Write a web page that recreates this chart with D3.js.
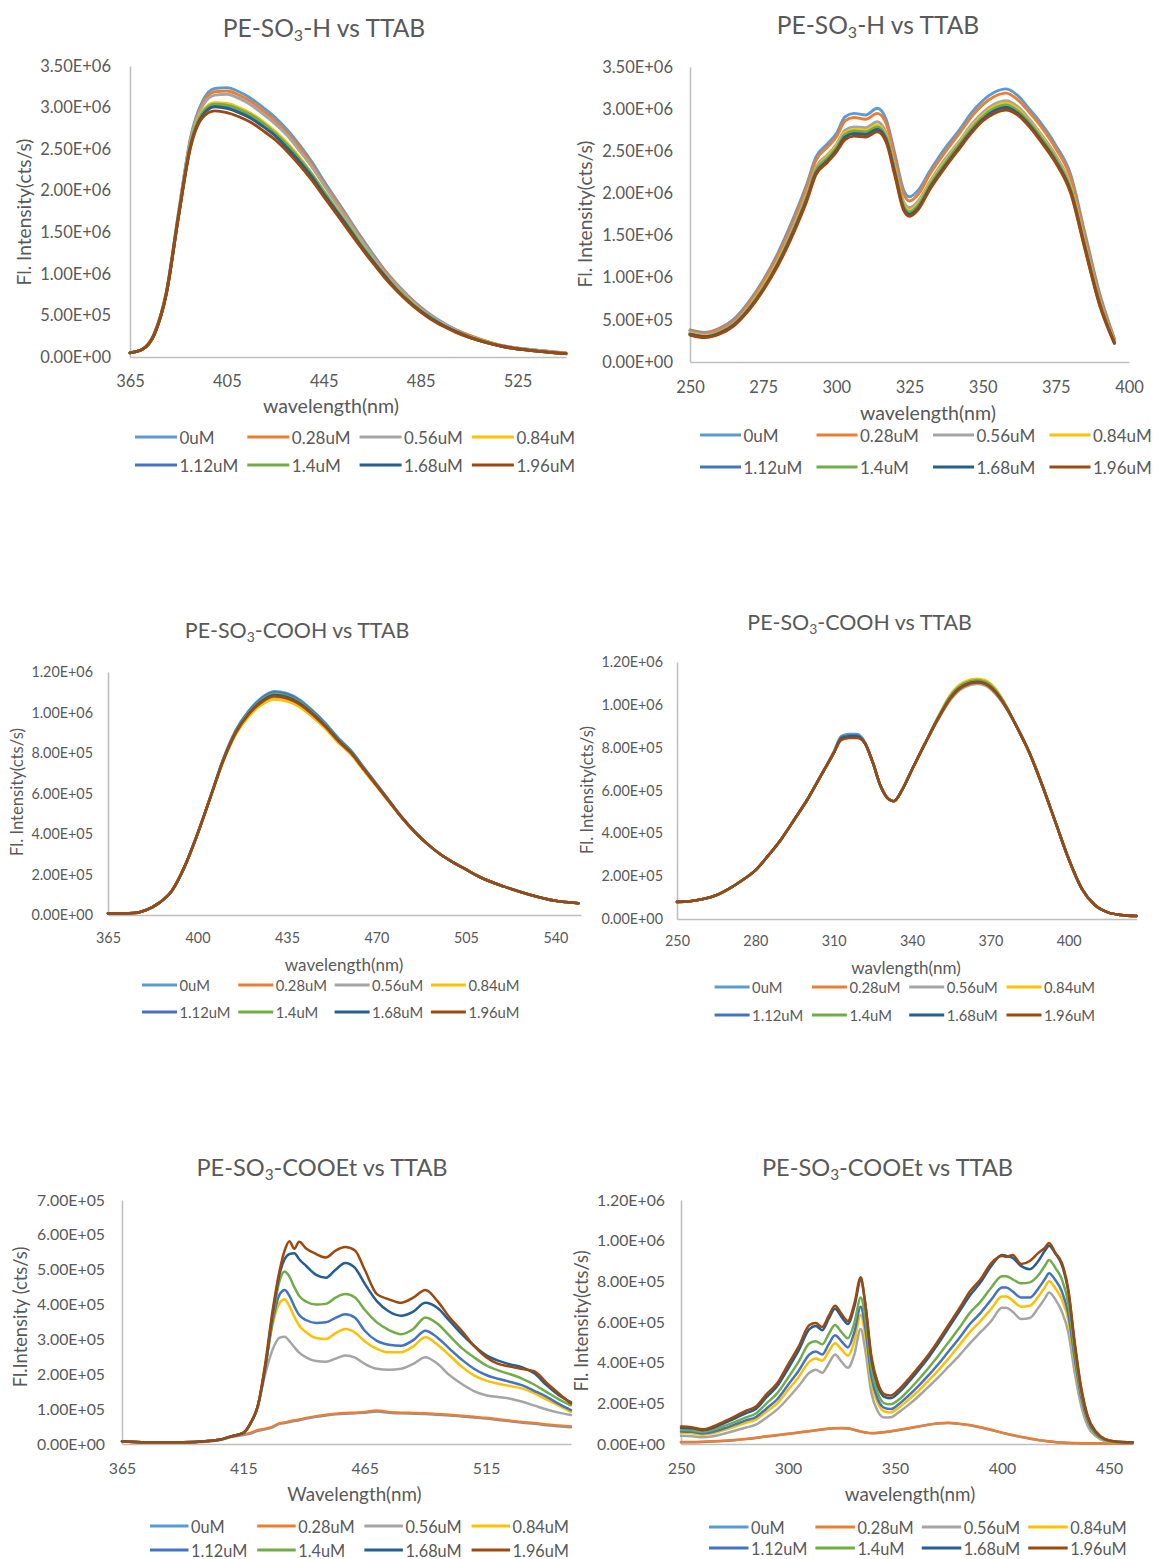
<!DOCTYPE html>
<html>
<head>
<meta charset="utf-8">
<script src="https://cdn.jsdelivr.net/npm/d3@7"></script>
<style>
  body { margin: 0; background: #ffffff; }
  svg text { font-family: Lato, "Open Sans", "DejaVu Sans", sans-serif; fill: #595959; }
</style>
</head>
<body>
<svg id="chart" width="1159" height="1559"></svg>
<script>
// ---------- shared legend entries ----------
const concLabels = ["0uM", "0.28uM", "0.56uM", "0.84uM", "1.12uM", "1.4uM", "1.68uM", "1.96uM"];
const lineColors = ["#5B9BD5", "#ED7D31", "#A5A5A5", "#FFC000", "#4472C4", "#70AD47", "#255E91", "#9E480E"];

// ---------- PE-SO3-H, emission (intensity in 1E+06 cts/s) ----------
const wlA = [365,370,375,380,385,390,395,400,405,410,415,420,425,430,435,440,445,450,455,460,465,470,475,480,485,490,495,500,510,520,530,545];
const A_0   = [.05,.09,.28,.78,1.73,2.64,3.08,3.23,3.24,3.19,3.11,3.00,2.88,2.73,2.55,2.35,2.12,1.90,1.68,1.46,1.25,1.05,.88,.73,.60,.49,.40,.32,.21,.13,.09,.05];
const A_028 = [.05,.09,.28,.78,1.72,2.62,3.05,3.19,3.20,3.15,3.07,2.96,2.84,2.69,2.52,2.32,2.09,1.88,1.66,1.44,1.23,1.04,.87,.72,.59,.48,.39,.32,.21,.13,.09,.05];
const A_056 = [.05,.09,.28,.77,1.72,2.61,3.02,3.15,3.16,3.11,3.03,2.92,2.80,2.66,2.48,2.29,2.07,1.85,1.64,1.42,1.22,1.02,.86,.71,.58,.48,.39,.31,.20,.13,.09,.04];
const A_084 = [.05,.09,.27,.77,1.70,2.57,2.96,3.06,3.05,3.00,2.93,2.83,2.71,2.57,2.40,2.21,2.00,1.79,1.59,1.38,1.18,.99,.83,.69,.56,.46,.38,.30,.20,.12,.08,.04];
const A_112 = [.05,.09,.27,.76,1.69,2.55,2.93,3.02,3.01,2.96,2.89,2.79,2.67,2.53,2.37,2.18,1.98,1.77,1.57,1.36,1.17,.98,.82,.68,.55,.45,.37,.30,.19,.12,.08,.04];
const A_140 = [.05,.09,.27,.77,1.70,2.56,2.94,3.04,3.03,2.98,2.91,2.81,2.69,2.55,2.38,2.20,1.99,1.78,1.58,1.37,1.17,.99,.82,.68,.56,.46,.37,.30,.20,.12,.08,.04];
const A_168 = [.05,.09,.27,.76,1.69,2.54,2.91,3.01,2.99,2.94,2.87,2.77,2.66,2.51,2.35,2.17,1.96,1.76,1.56,1.35,1.16,.98,.81,.67,.55,.45,.37,.30,.19,.12,.08,.04];
const A_196 = [.05,.09,.27,.76,1.68,2.52,2.88,2.96,2.94,2.89,2.82,2.72,2.61,2.47,2.31,2.13,1.93,1.73,1.53,1.33,1.14,.96,.80,.66,.54,.44,.36,.29,.19,.12,.08,.04];
const xTicksA = [365, 405, 445, 485, 525];
const yTicksA = [0, 0.5, 1, 1.5, 2, 2.5, 3, 3.5];

// ---------- PE-SO3-H, excitation (1E+06 cts/s) ----------
const wlB = [250,255,260,265,270,275,280,285,290,293,297,300,303,306,310,314,317,320,323,325,328,332,337,342,346,350,354,358,362,366,370,375,380,385,390,395];
const B_0   = [.38,.35,.40,.51,.71,.97,1.29,1.68,2.12,2.43,2.59,2.71,2.91,2.95,2.93,3.01,2.88,2.47,2.04,1.96,2.04,2.27,2.53,2.75,2.95,3.10,3.20,3.24,3.16,3.00,2.83,2.57,2.23,1.52,.81,.28];
const B_028 = [.37,.34,.39,.49,.69,.95,1.26,1.64,2.08,2.39,2.55,2.67,2.86,2.90,2.88,2.95,2.83,2.42,1.99,1.91,1.99,2.23,2.48,2.71,2.90,3.05,3.15,3.19,3.11,2.96,2.79,2.53,2.19,1.48,.78,.27];
const B_056 = [.35,.32,.36,.46,.65,.90,1.20,1.58,2.00,2.31,2.46,2.58,2.75,2.79,2.78,2.85,2.72,2.32,1.90,1.83,1.91,2.14,2.40,2.62,2.81,2.96,3.06,3.10,3.03,2.88,2.70,2.45,2.10,1.41,.73,.25];
const B_084 = [.34,.31,.35,.45,.64,.89,1.19,1.55,1.98,2.28,2.44,2.56,2.72,2.76,2.75,2.81,2.69,2.29,1.87,1.80,1.88,2.12,2.37,2.60,2.78,2.93,3.03,3.07,3.00,2.85,2.68,2.42,2.08,1.39,.71,.24];
const B_112 = [.33,.30,.34,.44,.63,.87,1.17,1.53,1.96,2.26,2.41,2.53,2.69,2.73,2.72,2.78,2.66,2.26,1.84,1.77,1.85,2.09,2.34,2.57,2.75,2.90,3.00,3.04,2.97,2.83,2.65,2.40,2.05,1.36,.70,.23];
const B_140 = [.33,.30,.35,.45,.63,.88,1.17,1.54,1.96,2.27,2.42,2.54,2.70,2.74,2.73,2.79,2.67,2.27,1.85,1.78,1.86,2.10,2.35,2.58,2.76,2.91,3.01,3.05,2.98,2.84,2.66,2.41,2.06,1.37,.70,.23];
const B_168 = [.33,.30,.34,.44,.62,.86,1.16,1.52,1.94,2.24,2.39,2.51,2.67,2.71,2.70,2.76,2.64,2.24,1.82,1.75,1.83,2.07,2.32,2.55,2.73,2.88,2.98,3.02,2.95,2.81,2.63,2.38,2.03,1.35,.68,.23];
const B_196 = [.32,.29,.33,.43,.61,.85,1.14,1.50,1.92,2.22,2.37,2.49,2.64,2.68,2.67,2.73,2.61,2.21,1.80,1.73,1.81,2.05,2.30,2.53,2.71,2.86,2.95,2.99,2.93,2.79,2.61,2.36,2.01,1.33,.67,.22];
const xTicksB = [250, 275, 300, 325, 350, 375, 400];
const yTicksB = [0, 0.5, 1, 1.5, 2, 2.5, 3, 3.5];

// ---------- PE-SO3-COOH, emission (1E+05 cts/s) ----------
const wlC = [365,375,380,385,390,395,400,405,410,415,420,425,430,435,440,445,450,455,460,465,470,475,480,485,490,495,500,505,510,520,530,540,549];
const C_0   = [.08,.1,.25,.6,1.2,2.4,4.0,5.8,7.68,9.13,10.08,10.73,11.05,10.95,10.63,10.1,9.48,8.75,8.13,7.3,6.48,5.65,4.83,4.1,3.5,3.0,2.6,2.25,1.9,1.4,1.0,.7,.58];
const C_028 = [.08,.1,.25,.6,1.2,2.4,4.0,5.8,7.58,8.97,9.86,10.45,10.74,10.64,10.35,9.85,9.26,8.56,7.97,7.18,6.38,5.59,4.79,4.1,3.5,3.0,2.6,2.25,1.9,1.4,1.0,.7,.58];
const C_056 = [.08,.1,.25,.6,1.2,2.4,4.0,5.8,7.59,8.98,9.87,10.46,10.76,10.66,10.36,9.87,9.27,8.58,7.98,7.18,6.39,5.59,4.8,4.1,3.5,3.0,2.6,2.25,1.9,1.4,1.0,.7,.58];
const C_084 = [.08,.1,.25,.6,1.2,2.4,4.0,5.8,7.56,8.93,9.8,10.37,10.65,10.55,10.27,9.78,9.2,8.51,7.93,7.14,6.36,5.57,4.79,4.1,3.5,3.0,2.6,2.25,1.9,1.4,1.0,.7,.58];
const C_112 = [.08,.1,.25,.6,1.2,2.4,4.0,5.8,7.66,9.1,10.04,10.68,11.0,10.9,10.58,10.06,9.44,8.72,8.1,7.28,6.46,5.64,4.82,4.1,3.5,3.0,2.6,2.25,1.9,1.4,1.0,.7,.58];
const C_140 = [.08,.1,.25,.6,1.2,2.4,4.0,5.8,7.64,9.06,9.98,10.61,10.92,10.82,10.51,10.0,9.38,8.67,8.06,7.25,6.44,5.62,4.81,4.1,3.5,3.0,2.6,2.25,1.9,1.4,1.0,.7,.58];
const C_168 = [.08,.1,.25,.6,1.2,2.4,4.0,5.8,7.62,9.03,9.94,10.55,10.86,10.76,10.45,9.95,9.34,8.64,8.03,7.22,6.42,5.61,4.81,4.1,3.5,3.0,2.6,2.25,1.9,1.4,1.0,.7,.58];
const C_196 = [.08,.1,.25,.6,1.2,2.4,4.0,5.8,7.6,9.0,9.9,10.5,10.8,10.7,10.4,9.9,9.3,8.6,8.0,7.2,6.4,5.6,4.8,4.1,3.5,3.0,2.6,2.25,1.9,1.4,1.0,.7,.58];
const xTicksC = [365, 400, 435, 470, 505, 540];
const yTicksC = [0, 2, 4, 6, 8, 10, 12];

// ---------- PE-SO3-COOH, excitation (1E+05 cts/s) ----------
const wlD = [250,255,260,265,270,275,280,285,290,295,300,305,310,313,316,319,322,325,328,331,333,336,340,345,350,355,360,365,368,372,376,380,385,390,395,400,405,410,415,420,426];
const D_0   = [.80,.83,.93,1.11,1.42,1.81,2.27,2.97,3.74,4.66,5.59,6.67,7.8,8.55,8.63,8.63,8.25,7.3,6.2,5.6,5.5,5.98,6.98,8.2,9.37,10.38,10.92,11.07,11.0,10.6,9.9,9.0,7.75,6.2,4.5,2.8,1.42,.65,.31,.19,.14];
const D_028 = [.80,.83,.93,1.11,1.42,1.81,2.27,2.97,3.74,4.66,5.59,6.67,7.75,8.45,8.53,8.53,8.2,7.3,6.2,5.6,5.5,5.98,6.98,8.2,9.4,10.43,10.97,11.12,11.05,10.65,9.93,9.0,7.75,6.2,4.5,2.8,1.42,.65,.31,.19,.14];
const D_056 = [.80,.83,.93,1.11,1.42,1.81,2.27,2.97,3.74,4.66,5.59,6.67,7.75,8.45,8.53,8.53,8.2,7.3,6.2,5.6,5.5,5.98,6.98,8.2,9.32,10.28,10.82,10.97,10.9,10.5,9.85,9.0,7.75,6.2,4.5,2.8,1.42,.65,.31,.19,.14];
const D_084 = [.80,.83,.93,1.11,1.42,1.81,2.27,2.97,3.74,4.66,5.59,6.67,7.75,8.5,8.58,8.58,8.2,7.3,6.2,5.6,5.5,5.98,6.98,8.2,9.45,10.53,11.07,11.22,11.15,10.75,9.98,9.0,7.75,6.2,4.5,2.8,1.42,.65,.31,.19,.14];
const D_112 = [.80,.83,.93,1.11,1.42,1.81,2.27,2.97,3.74,4.66,5.59,6.67,7.75,8.5,8.58,8.58,8.2,7.3,6.2,5.6,5.5,5.98,6.98,8.2,9.4,10.43,10.97,11.12,11.05,10.65,9.93,9.0,7.75,6.2,4.5,2.8,1.42,.65,.31,.19,.14];
const D_140 = [.80,.83,.93,1.11,1.42,1.81,2.27,2.97,3.74,4.66,5.59,6.67,7.75,8.45,8.53,8.53,8.2,7.3,6.2,5.6,5.5,5.98,6.98,8.2,9.42,10.46,11.0,11.15,11.08,10.68,9.95,9.0,7.75,6.2,4.5,2.8,1.42,.65,.31,.19,.14];
const D_168 = [.80,.83,.93,1.11,1.42,1.81,2.27,2.97,3.74,4.66,5.59,6.67,7.75,8.45,8.53,8.53,8.2,7.3,6.2,5.6,5.5,5.98,6.98,8.2,9.37,10.38,10.92,11.07,11.0,10.6,9.9,9.0,7.75,6.2,4.5,2.8,1.42,.65,.31,.19,.14];
const D_196 = [.80,.83,.93,1.11,1.42,1.81,2.27,2.97,3.74,4.66,5.59,6.67,7.75,8.37,8.45,8.45,8.2,7.3,6.2,5.6,5.5,5.98,6.98,8.2,9.35,10.35,10.89,11.04,10.97,10.57,9.88,9.0,7.75,6.2,4.5,2.8,1.42,.65,.31,.19,.14];
const xTicksD = [250, 280, 310, 340, 370, 400];
const yTicksD = [0, 2, 4, 6, 8, 10, 12];

// ---------- PE-SO3-COOEt, emission (1E+05 cts/s) ----------
const wlE = [365,375,385,395,405,410,415,418,421,424,427,430,432,434,436,438,441,445,449,453,457,461,465,470,475,480,485,490,495,500,505,510,515,520,525,530,535,540,545,550];
const E_0   = [.07,.04,.04,.05,.11,.2,.26,.3,.38,.42,.48,.58,.6,.63,.66,.68,.73,.78,.82,.85,.87,.88,.9,.93,.9,.88,.87,.86,.84,.82,.79,.76,.73,.69,.65,.61,.58,.54,.51,.48];
const E_028 = [.08,.05,.05,.06,.12,.22,.28,.32,.4,.44,.5,.6,.62,.65,.68,.7,.75,.8,.84,.87,.89,.9,.92,.96,.92,.9,.89,.88,.86,.84,.81,.78,.75,.71,.67,.63,.6,.56,.53,.5];
const E_056 = [.08,.05,.05,.06,.12,.22,.32,.6,1.1,2.0,2.7,3.05,3.08,2.95,2.78,2.62,2.48,2.38,2.36,2.45,2.54,2.48,2.3,2.16,2.13,2.16,2.3,2.49,2.3,1.97,1.72,1.52,1.4,1.35,1.3,1.21,1.1,.99,.9,.83];
const E_084 = [.08,.05,.05,.06,.12,.22,.32,.6,1.1,2.2,3.4,4.05,4.15,3.95,3.65,3.4,3.2,3.04,3.01,3.18,3.3,3.2,2.95,2.73,2.63,2.63,2.8,3.06,2.85,2.54,2.22,1.97,1.82,1.73,1.66,1.59,1.45,1.27,1.1,.92];
const E_112 = [.08,.05,.05,.06,.12,.22,.32,.6,1.1,2.2,3.5,4.3,4.42,4.25,3.95,3.7,3.55,3.47,3.49,3.62,3.72,3.62,3.25,2.96,2.85,2.82,2.98,3.25,3.05,2.73,2.42,2.16,1.98,1.87,1.78,1.68,1.52,1.35,1.15,.97];
const E_140 = [.08,.05,.05,.06,.12,.22,.32,.6,1.1,2.2,3.6,4.7,4.95,4.8,4.5,4.25,4.08,4.0,4.02,4.2,4.3,4.2,3.85,3.49,3.27,3.15,3.3,3.63,3.45,3.1,2.75,2.49,2.26,2.11,2.0,1.87,1.7,1.49,1.28,1.11];
const E_168 = [.08,.05,.05,.06,.12,.22,.32,.6,1.1,2.2,3.7,4.9,5.3,5.45,5.47,5.3,5.1,4.85,4.77,5.0,5.19,5.05,4.6,4.1,3.8,3.68,3.8,4.05,3.9,3.53,3.15,2.82,2.55,2.39,2.28,2.2,2.02,1.68,1.4,1.2];
const E_196 = [.08,.05,.05,.06,.12,.22,.32,.6,1.1,2.3,3.8,5.0,5.55,5.82,5.6,5.8,5.6,5.45,5.35,5.55,5.65,5.55,5.0,4.3,4.15,4.05,4.2,4.42,4.1,3.63,3.25,2.82,2.49,2.3,2.22,2.15,2.08,1.75,1.45,1.16];
const xTicksE = [365, 415, 465, 515];
const yTicksE = [0, 1, 2, 3, 4, 5, 6, 7];

// ---------- PE-SO3-COOEt, excitation (1E+05 cts/s) ----------
const wlF = [250,255,260,265,270,275,280,285,290,295,300,305,310,313,316,319,322,325,328,331,334,336,339,342,345,348,352,356,360,365,370,375,380,385,390,395,400,402,405,409,413,417,420,422,425,428,431,434,437,440,444,448,453,461];
const F_0   = [.09,.09,.1,.12,.15,.19,.24,.3,.37,.43,.49,.56,.63,.67,.71,.75,.77,.78,.76,.69,.61,.57,.53,.54,.58,.62,.69,.76,.84,.93,1.01,1.03,.99,.92,.81,.69,.55,.5,.43,.34,.26,.19,.15,.12,.09,.07,.05,.04,.03,.03,.02,.02,.02,.02];
const F_028 = [.1,.1,.11,.13,.16,.2,.25,.31,.38,.44,.5,.57,.64,.68,.72,.76,.78,.79,.77,.7,.62,.58,.54,.55,.59,.63,.7,.77,.85,.94,1.02,1.04,1.0,.93,.82,.7,.56,.51,.44,.35,.27,.2,.16,.13,.1,.08,.06,.05,.04,.04,.03,.03,.03,.03];
const F_056 = [.4,.38,.33,.38,.5,.65,.8,.95,1.3,1.7,2.25,2.85,3.5,3.65,3.5,3.95,4.4,4.05,3.75,4.4,5.65,4.7,2.5,1.6,1.3,1.32,1.58,1.9,2.25,2.75,3.25,3.8,4.35,4.95,5.5,6.05,6.7,6.7,6.5,6.15,6.2,6.7,7.15,7.45,7.1,6.5,5.5,3.5,1.9,.9,.38,.15,.07,.05];
const F_084 = [.55,.53,.46,.53,.68,.85,1.03,1.2,1.6,2.0,2.65,3.3,4.05,4.2,4.1,4.55,4.95,4.65,4.35,5.05,6.35,5.4,3.0,2.0,1.6,1.55,1.8,2.15,2.52,3.05,3.6,4.2,4.85,5.5,6.05,6.65,7.25,7.25,7.05,6.75,6.8,7.25,7.7,8.0,7.65,7.1,6.1,4.0,2.2,1.1,.46,.19,.09,.07];
const F_112 = [.62,.6,.52,.6,.76,.95,1.15,1.32,1.75,2.2,2.9,3.6,4.4,4.55,4.4,4.9,5.35,5.05,4.75,5.5,6.75,5.8,3.3,2.2,1.78,1.72,1.98,2.35,2.75,3.3,3.9,4.55,5.2,5.9,6.45,7.1,7.7,7.7,7.5,7.2,7.2,7.65,8.1,8.4,8.05,7.5,6.4,4.2,2.3,1.15,.48,.2,.1,.07];
const F_140 = [.7,.68,.6,.7,.88,1.08,1.3,1.5,2.0,2.5,3.25,4.05,4.95,5.05,4.9,5.4,5.85,5.5,5.2,5.95,7.2,6.3,3.7,2.5,2.0,1.95,2.2,2.6,3.05,3.65,4.3,5.0,5.7,6.45,7.0,7.7,8.25,8.25,8.1,7.9,7.95,8.3,8.75,9.05,8.65,8.1,6.9,4.5,2.5,1.25,.52,.22,.1,.07];
const F_168 = [.8,.78,.68,.8,1.02,1.25,1.5,1.72,2.3,2.85,3.7,4.6,5.65,5.8,5.6,6.15,6.65,6.25,5.9,6.75,8.05,7.0,4.15,2.85,2.32,2.25,2.55,3.0,3.5,4.15,4.9,5.7,6.5,7.3,7.95,8.75,9.3,9.25,9.15,8.75,8.6,9.0,9.5,9.75,9.35,8.8,7.5,4.9,2.7,1.35,.58,.24,.12,.08];
const F_196 = [.86,.83,.72,.86,1.1,1.35,1.62,1.84,2.45,3.0,3.9,4.8,5.85,5.95,5.75,6.3,6.8,6.4,6.05,6.9,8.2,7.0,4.3,3.0,2.45,2.38,2.7,3.15,3.65,4.3,5.05,5.85,6.65,7.5,8.1,8.9,9.25,9.2,9.3,8.85,9.0,9.4,9.65,9.88,9.4,8.9,7.6,5.0,2.8,1.4,.6,.25,.12,.08];
const xTicksF = [250, 300, 350, 400, 450];
const yTicksF = [0, 2, 4, 6, 8, 10, 12];

// ---------- panel layout ----------
const panels = [
  { head: "-H vs TTAB", unit: 1e6, wl: wlA, series: [A_0, A_028, A_056, A_084, A_112, A_140, A_168, A_196],
    xTicks: xTicksA, yTicks: yTicksA, xDomain: [365, 545], yDomain: [0, 3.5],
    xRange: [130, 566], yRange: [357, 66], fs: 1.0, lw: 2.9,
    title: [324, 27], xTitle: ["wavelength(nm)", 331, 405], yTitle: ["Fl. Intensity(cts/s)", 23, 212],
    yPad: 19, xLabY: 381, legend: { x0: 135, step: 112.3, rows: [437, 465], len: 42 } },
  { head: "-H vs TTAB", unit: 1e6, wl: wlB, series: [B_0, B_028, B_056, B_084, B_112, B_140, B_168, B_196],
    xTicks: xTicksB, yTicks: yTicksB, xDomain: [250, 400], yDomain: [0, 3.5],
    xRange: [690, 1129], yRange: [362, 67], fs: 1.0, lw: 2.9,
    title: [878, 24], xTitle: ["wavelength(nm)", 928, 412], yTitle: ["Fl. Intensity(cts/s)", 584, 214],
    yPad: 17, xLabY: 387, legend: { x0: 700, step: 116.5, rows: [435, 467], len: 41 } },
  { head: "-COOH vs TTAB", unit: 1e5, wl: wlC, series: [C_0, C_028, C_056, C_084, C_112, C_140, C_168, C_196],
    xTicks: xTicksC, yTicks: yTicksC, xDomain: [365, 550], yDomain: [0, 12],
    xRange: [108, 581], yRange: [915, 672], fs: 0.87, lw: 2.6,
    title: [297, 630], xTitle: ["wavelength(nm)", 344, 964], yTitle: ["Fl. Intensity(cts/s)", 17, 792],
    yPad: 15, xLabY: 937.5, legend: { x0: 142, step: 96.3, rows: [985, 1012], len: 35 } },
  { head: "-COOH vs TTAB", unit: 1e5, wl: wlD, series: [D_0, D_028, D_056, D_084, D_112, D_140, D_168, D_196],
    xTicks: xTicksD, yTicks: yTicksD, xDomain: [250, 426], yDomain: [0, 12],
    xRange: [677, 1136.6], yRange: [919, 662], fs: 0.87, lw: 2.6,
    title: [859.5, 622], xTitle: ["wavlength(nm)", 906, 967], yTitle: ["Fl. Intensity(cts/s)", 587, 790],
    yPad: 14, xLabY: 941, legend: { x0: 714.6, step: 97.3, rows: [987, 1015], len: 35 } },
  { head: "-COOEt vs TTAB", unit: 1e5, wl: wlE, series: [E_0, E_028, E_056, E_084, E_112, E_140, E_168, E_196],
    xTicks: xTicksE, yTicks: yTicksE, xDomain: [365, 550], yDomain: [0, 7],
    xRange: [122, 571], yRange: [1444, 1200], fs: 0.96, lw: 2.5,
    title: [322, 1167], xTitle: ["Wavelength(nm)", 354.5, 1493], yTitle: ["Fl.Intensity (cts/s)", 20, 1317],
    yPad: 17, xLabY: 1468, legend: { x0: 150, step: 107.2, rows: [1526, 1550], len: 38.5 } },
  { head: "-COOEt vs TTAB", unit: 1e5, wl: wlF, series: [F_0, F_028, F_056, F_084, F_112, F_140, F_168, F_196],
    xTicks: xTicksF, yTicks: yTicksF, xDomain: [250, 461], yDomain: [0, 12],
    xRange: [681, 1132.5], yRange: [1444, 1200], fs: 0.96, lw: 2.5,
    title: [887.5, 1167], xTitle: ["wavelength(nm)", 910, 1493], yTitle: ["Fl. Intensity(cts/s)", 581, 1321],
    yPad: 16, xLabY: 1468, legend: { x0: 709, step: 106.4, rows: [1527, 1548], len: 39.5 } }
];

// scientific labels in the "3.50E+06" style
function sci(v) {
  if (v === 0) return "0.00E+00";
  const e = Math.floor(Math.log10(v) + 1e-9);
  const m = v / Math.pow(10, e);
  return m.toFixed(2) + "E" + (e < 0 ? "-" : "+") + String(Math.abs(e)).padStart(2, "0");
}

const svg = d3.select("#chart");
const AXIS = "#BFBFBF";

panels.forEach(p => {
  const g = svg.append("g");
  const x = d3.scaleLinear().domain(p.xDomain).range(p.xRange);
  const y = d3.scaleLinear().domain(p.yDomain).range(p.yRange);
  const tickFs = 16.5 * p.fs, titleFs = 24.6 * p.fs, xTitleFs = 19.6 * p.fs, yTitleFs = 19.1 * p.fs, legFs = 17 * p.fs;

  // y axis
  const ya = g.append("g").attr("transform", `translate(${p.xRange[0]},0)`)
    .call(d3.axisLeft(y).tickValues(p.yTicks).tickSize(0).tickSizeOuter(0).tickPadding(p.yPad)
      .tickFormat(v => sci(v * p.unit)));
  ya.select(".domain").attr("stroke", AXIS).attr("stroke-width", 1.6);
  ya.selectAll("text").attr("font-size", tickFs).attr("fill", "#595959").attr("font-family", null);

  // x axis
  const base = p.yRange[0];
  const xa = g.append("g").attr("transform", `translate(0,${base})`)
    .call(d3.axisBottom(x).tickValues(p.xTicks).tickSize(0).tickSizeOuter(0).tickFormat(d3.format("d")));
  xa.select(".domain").attr("stroke", AXIS).attr("stroke-width", 1.6);
  xa.selectAll("text").attr("font-size", tickFs).attr("fill", "#595959").attr("font-family", null)
    .attr("y", p.xLabY - base).attr("dy", "0.35em");

  // spectra
  const line = d3.line().x(d => x(d[0])).y(d => y(d[1])).curve(d3.curveMonotoneX);
  p.series.forEach((vals, i) => {
    g.append("path")
      .datum(d3.zip(p.wl, vals))
      .attr("d", line)
      .attr("fill", "none")
      .attr("stroke", lineColors[i])
      .attr("stroke-width", p.lw)
      .attr("stroke-linejoin", "round")
      .attr("stroke-linecap", "round");
  });

  // chart title with subscript
  const t = g.append("text").attr("x", p.title[0]).attr("y", p.title[1])
    .attr("text-anchor", "middle").attr("dominant-baseline", "central").attr("font-size", titleFs);
  t.append("tspan").text("PE-SO");
  t.append("tspan").attr("font-size", titleFs * 0.65).attr("dy", titleFs * 0.3).text("3");
  t.append("tspan").attr("dy", -titleFs * 0.3).text(p.head);

  // axis titles
  g.append("text").attr("x", p.xTitle[1]).attr("y", p.xTitle[2])
    .attr("text-anchor", "middle").attr("dominant-baseline", "central")
    .attr("font-size", xTitleFs).text(p.xTitle[0]);
  g.append("text").attr("transform", `translate(${p.yTitle[1]},${p.yTitle[2]}) rotate(-90)`)
    .attr("text-anchor", "middle").attr("dominant-baseline", "central")
    .attr("font-size", yTitleFs).text(p.yTitle[0]);

  // legend, two rows of four
  concLabels.forEach((lab, i) => {
    const lx = p.legend.x0 + (i % 4) * p.legend.step;
    const ly = p.legend.rows[Math.floor(i / 4)];
    g.append("line").attr("x1", lx).attr("x2", lx + p.legend.len).attr("y1", ly).attr("y2", ly)
      .attr("stroke", lineColors[i]).attr("stroke-width", 3);
    g.append("text").attr("x", lx + p.legend.len + 2.5).attr("y", ly)
      .attr("dominant-baseline", "central").attr("font-size", legFs).text(lab);
  });
});
</script>
</body>
</html>
